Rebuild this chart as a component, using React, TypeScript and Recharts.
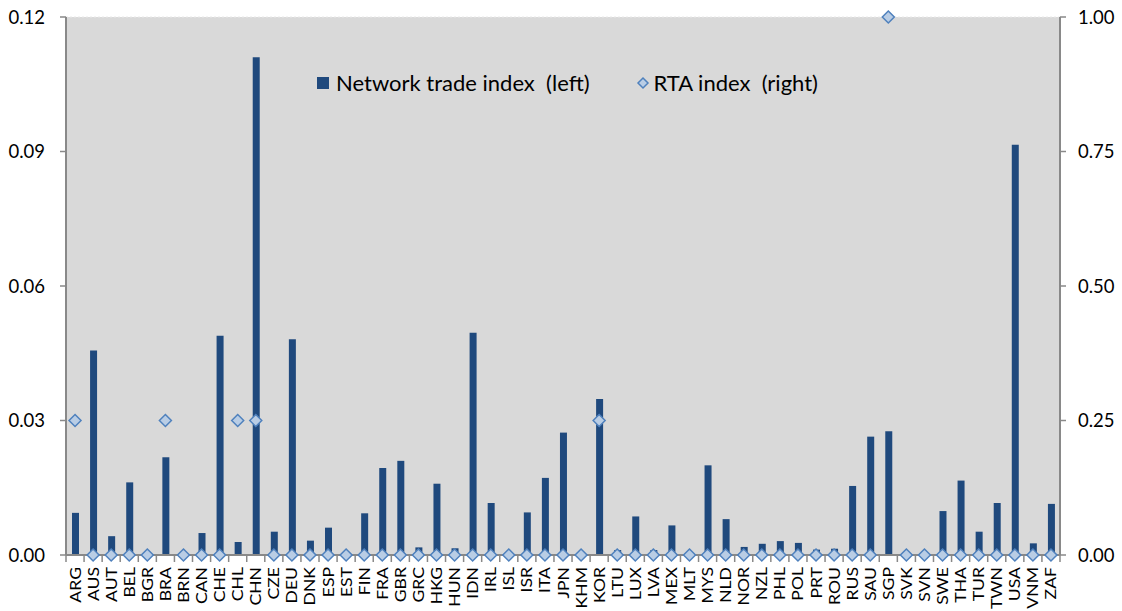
import React from 'react';
import { ComposedChart, Bar, Line, XAxis, YAxis, CartesianGrid } from 'recharts';

const countries = ['ARG','AUS','AUT','BEL','BGR','BRA','BRN','CAN','CHE','CHL','CHN','CZE','DEU','DNK','ESP','EST','FIN','FRA','GBR','GRC','HKG','HUN','IDN','IRL','ISL','ISR','ITA','JPN','KHM','KOR','LTU','LUX','LVA','MEX','MLT','MYS','NLD','NOR','NZL','PHL','POL','PRT','ROU','RUS','SAU','SGP','SVK','SVN','SWE','THA','TUR','TWN','USA','VNM','ZAF'];

const networkTrade = [0.0094,0.0456,0.0042,0.0162,0,0.0218,0,0.0049,0.0489,0.0029,0.111,0.0052,0.0481,0.0032,0.0061,0,0.0093,0.0194,0.021,0.0017,0.0159,0.0015,0.0496,0.0116,0,0.0095,0.0172,0.0273,0,0.0348,0.0011,0.0086,0.0011,0.0066,0,0.02,0.008,0.0018,0.0025,0.0031,0.0027,0.0012,0.0014,0.0154,0.0264,0.0276,0,0,0.0098,0.0166,0.0052,0.0116,0.0915,0.0026,0.0114];

const rtaIndex: (number | null)[] = [0.25,0,0,0,0,0.25,0,0,0,0.25,0.25,0,0,0,0,0,0,0,0,0,0,0,0,0,0,0,0,0,0,0.25,0,0,0,0,0,0,0,0,0,0,0,0,0,0,0,1,0,0,0,0,0,0,0,0,0];

const leftTicks = [0, 0.03, 0.06, 0.09, 0.12];
const rightTicks = [0, 0.25, 0.5, 0.75, 1];

const seriesNames = ['Network trade index  (left)', 'RTA index  (right)'];

const data = countries.map((c, i) => ({ name: c, net: networkTrade[i], rta: rtaIndex[i] }));

const W = 1122;
const H = 611;
const LEFT = 66;
const RIGHT = 62;
const TOP = 17;
const XH = 56;
const FONT = 'Lato, "Open Sans", sans-serif';
const AXIS = '#898989';

const step = (W - LEFT - RIGHT) / countries.length;

const Diamond = (props: any) => {
  const { cx, cy, value } = props;
  if (value === null || value === undefined || cx == null || cy == null) return null;
  const r = 6;
  return (
    <path
      key={`d-${props.index}`}
      d={`M${cx},${cy - r} L${cx + r},${cy} L${cx},${cy + r} L${cx - r},${cy} Z`}
      fill="#B9CDE5"
      stroke="#4F81BD"
      strokeWidth={1.5}
    />
  );
};

const XTick = (props: any) => {
  const { x, y, payload, index } = props;
  return (
    <g>
      {index === 0 && <line x1={x - step / 2} y1={y - 8} x2={x - step / 2} y2={y - 1} stroke={AXIS} strokeWidth={1.5} />}
      <line x1={x + step / 2} y1={y - 8} x2={x + step / 2} y2={y - 1} stroke={AXIS} strokeWidth={1.5} />
      <text
        x={0}
        y={0}
        transform={`translate(${x + 5.5},${y + 4}) rotate(-90) scale(1.1,1)`}
        textAnchor="end"
        fontSize={16}
        fontFamily={FONT}
        fill="#000"
      >
        {payload.value}
      </text>
    </g>
  );
};

const LeftTick = (props: any) => {
  const { y, payload } = props;
  return (
    <text x={45} y={y} dy="0.36em" textAnchor="end" fontSize={18.5} fontFamily={FONT} fill="#000">
      {Number(payload.value).toFixed(2)}
    </text>
  );
};

const RightTick = (props: any) => {
  const { y, payload } = props;
  return (
    <text x={W - RIGHT + 18} y={y} dy="0.36em" textAnchor="start" fontSize={18.5} fontFamily={FONT} fill="#000">
      {Number(payload.value).toFixed(2)}
    </text>
  );
};

export default function App() {
  return (
    <div style={{ position: 'absolute', left: 0, top: 0, width: W, height: H, background: '#fff' }}>
      <ComposedChart
        width={W}
        height={H}
        data={data}
        margin={{ top: TOP, right: 0, bottom: 0, left: 0 }}
        barCategoryGap={0}
      >
        <CartesianGrid vertical={false} fill="#D9D9D9" stroke="#E9E9E9" strokeDasharray="2 2" />
        <XAxis
          dataKey="name"
          interval={0}
          height={XH}
          tick={<XTick />}
          tickLine={false}
          axisLine={{ stroke: AXIS, strokeWidth: 2 }}
        />
        <YAxis
          yAxisId="left"
          orientation="left"
          width={LEFT}
          domain={[0, 0.12]}
          ticks={leftTicks}
          tick={<LeftTick />}
          tickSize={6}
          tickLine={{ stroke: AXIS, strokeWidth: 1.5 }}
          axisLine={{ stroke: AXIS, strokeWidth: 2 }}
          interval={0}
        />
        <YAxis
          yAxisId="right"
          orientation="right"
          width={RIGHT}
          domain={[0, 1]}
          ticks={rightTicks}
          tick={<RightTick />}
          tickSize={6}
          tickLine={{ stroke: AXIS, strokeWidth: 1.5 }}
          axisLine={{ stroke: AXIS, strokeWidth: 2 }}
          interval={0}
        />
        <Bar yAxisId="left" dataKey="net" fill="#1F497D" barSize={7} isAnimationActive={false} />
        <Line
          yAxisId="right"
          dataKey="rta"
          stroke="none"
          dot={Diamond}
          activeDot={false}
          isAnimationActive={false}
        />
      </ComposedChart>
      <div
        style={{
          position: 'absolute',
          left: 317,
          top: 70,
          display: 'flex',
          alignItems: 'center',
          fontFamily: FONT,
          fontSize: 22,
          lineHeight: '26px',
          color: '#000',
        }}
      >
        <span style={{ display: 'inline-block', width: 12, height: 12, background: '#1F497D', marginRight: 7 }} />
        <span style={{ marginRight: 46, whiteSpace: 'pre' }}>{seriesNames[0]}</span>
        <svg width={14} height={14} style={{ marginRight: 4 }}>
          <path d="M7,2 L12,7 L7,12 L2,7 Z" fill="#B9CDE5" stroke="#4F81BD" strokeWidth={1.5} />
        </svg>
        <span style={{ whiteSpace: 'pre' }}>{seriesNames[1]}</span>
      </div>
    </div>
  );
}
